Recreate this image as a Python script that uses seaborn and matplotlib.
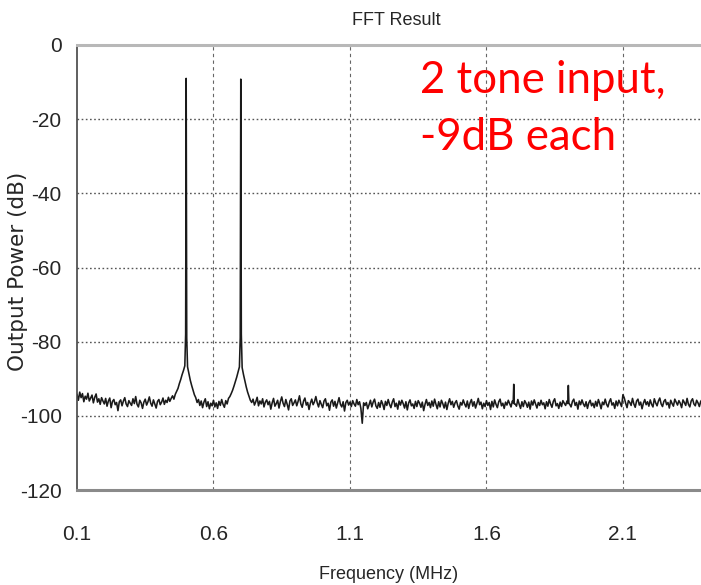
import numpy as np
import pandas as pd
import matplotlib
matplotlib.use("Agg")
import matplotlib.pyplot as plt
import seaborn as sns
from matplotlib.ticker import MultipleLocator

# ---------------- data ----------------
title = "FFT Result"
x_label = "Frequency (MHz)"
y_label = "Output Power (dB)"
note_line1 = "2 tone input,"
note_line2 = "-9dB each"

x_ticks = [0.1, 0.6, 1.1, 1.6, 2.1]
y_ticks = [-120, -100, -80, -60, -40, -20, 0]

# spectrum in 0.005 MHz steps from 0.100 to 2.395 MHz (one row = 0.1 MHz);
# nan = bin replaced by the fine tone / spur detail below
floor_start = 0.10
floor_step = 0.005
floor_db = [
    -94.2, -95.8, -93.6, -95.1, -94.0, -96.2, -94.7, -95.5, -93.9, -96.0, -95.2, -94.4, -96.5, -95.0, -94.1, -96.3, -95.4, -96.9, -95.1, -96.0,
    -96.8, -95.3, -97.4, -96.0, -95.2, -97.8, -96.1, -95.6, -97.0, -96.4, -98.6, -96.2, -95.7, -97.3, -96.0, -95.1, -96.8, -97.5, -95.9, -96.6,
    -97.2, -95.4, -96.7, -94.8, -96.9, -97.6, -95.8, -96.5, -98.0, -96.3, -95.5, -97.1, -96.2, -94.9, -96.6, -97.4, -95.7, -96.8, -97.9, -96.1,
    -95.6, -97.0, -96.3, -95.2, -96.9, -95.8, -96.4, -95.0, -96.1, -95.3, -94.6, -95.5, -94.2, -93.4, -92.6, -91.3, -90.2, -88.9, -87.8, -86.5,
    np.nan, -86.8, -88.6, -90.4, -91.8, -93.0, -94.3, -95.1, -96.4, -95.6, -97.2, -96.0, -97.8, -96.3, -95.4, -97.5, -96.2, -98.1, -96.6, -97.3,
    -95.8, -97.6, -96.5, -98.0, -96.1, -97.2, -95.6, -96.9, -97.7, -95.9, -96.8, -95.3, -94.8, -94.0, -93.1, -92.0, -90.8, -89.6, -88.2, -86.8,
    np.nan, -87.0, -88.9, -90.6, -92.2, -93.6, -94.7, -95.8, -96.4, -95.5, -97.1, -96.2, -95.0, -97.3, -96.0, -96.8, -95.4, -97.6, -96.3, -95.7,
    -97.0, -96.1, -98.2, -96.5, -95.3, -97.4, -96.7, -95.8, -97.9, -96.2, -94.9, -96.6, -97.5, -95.6, -96.9, -98.4, -96.0, -95.4, -97.2, -96.5,
    -95.7, -97.3, -96.1, -94.6, -96.8, -97.7, -96.0, -95.2, -97.1, -96.4, -98.3, -96.6, -95.5, -97.0, -96.2, -94.8, -96.5, -97.6, -95.9, -96.9,
    -97.8, -96.0, -95.4, -97.3, -96.6, -98.5, -96.3, -95.7, -97.4, -96.1, -97.9, -96.5, -95.1, -96.9, -97.6, -96.2, -98.7, -96.4, -95.8, -97.1,
    -96.3, -97.5, -95.9, -96.8, -97.4, -95.6, -97.0, -96.2, -98.0, -102.0, -96.5, -97.2, -96.4, -98.1, -97.0, -95.8, -97.6, -96.3, -95.5, -97.3,
    -98.0, -96.4, -97.7, -95.9, -96.8, -98.3, -96.1, -97.2, -95.6, -96.9, -97.8, -96.3, -95.4, -97.5, -96.6, -98.2, -96.0, -97.1, -95.8, -96.7,
    -97.9, -96.2, -98.4, -96.5, -95.7, -97.3, -96.8, -98.0, -96.1, -97.5, -95.9, -96.6, -97.7, -96.3, -98.6, -96.9, -95.6, -97.2, -96.4, -97.8,
    -96.0, -97.4, -95.5, -96.9, -98.1, -96.2, -97.6, -95.8, -96.7, -97.9, -96.3, -98.3, -96.6, -95.4, -97.0, -96.1, -97.7, -96.5, -95.9, -97.3,
    -98.2, -96.4, -97.1, -95.7, -96.8, -97.6, -96.0, -98.0, -96.5, -95.6, -97.4, -96.2, -97.9, -96.7, -95.3, -97.0, -96.3, -98.1, -96.6, -97.5,
    -95.9, -97.2, -96.4, -98.3, -96.1, -97.6, -95.7, -96.9, -97.8, -96.2, -95.5, -97.3, -96.6, -98.0, -96.3, -97.1, -95.8, -96.7, -97.6, -96.0,
    np.nan, -96.8, -97.4, -95.6, -96.9, -98.0, -96.2, -97.5, -95.9, -96.6, -97.7, -96.3, -98.2, -96.0, -97.1, -95.7, -96.8, -97.9, -96.4, -97.2,
    -95.8, -97.0, -96.5, -98.1, -96.2, -97.4, -95.6, -96.8, -97.7, -96.1, -95.4, -97.3, -96.7, -98.0, -96.3, -97.5, -95.9, -96.6, -97.2, -96.0,
    np.nan, -96.9, -97.6, -96.1, -95.5, -97.2, -96.4, -98.2, -96.0, -97.0, -95.7, -96.8, -97.5, -96.2, -98.0, -96.5, -95.8, -97.3, -96.6, -97.8,
    -96.1, -97.4, -95.6, -96.7, -98.1, -96.3, -97.0, -95.5, -96.9, -97.6, -96.2, -95.4, -97.1, -96.5, -98.0, -96.0, -97.3, -95.8, -96.6, -97.5,
    -94.3, -95.2, -96.6, -97.8, -95.9, -96.4, -97.2, -95.3, -96.8, -97.7, -96.0, -95.5, -97.1, -96.3, -98.1, -96.6, -95.6, -97.0, -96.2, -97.4,
    -95.7, -96.9, -97.6, -95.4, -96.5, -97.3, -96.0, -95.2, -96.8, -97.5, -96.1, -95.6, -97.0, -96.4, -97.9, -95.8, -96.7, -97.4, -95.5, -96.3,
    -97.1, -95.9, -96.6, -97.8, -95.7, -96.4, -97.2, -95.3, -96.9, -97.6, -96.0, -95.4, -96.8, -97.3, -95.8, -96.5, -97.5, -96.1, -95.6, -96.9,
]

# fine detail around the two tones and the two small spurs
tone1_f = [0.498, 0.4995, 0.500, 0.5005, 0.502]
tone1_db = [-78.0, -30.0, -9.0, -28.0, -79.0]
tone2_f = [0.698, 0.6995, 0.700, 0.7005, 0.702]
tone2_db = [-79.0, -32.0, -9.2, -30.0, -78.0]
spur_f = [1.698, 1.700, 1.702, 1.898, 1.900, 1.902]
spur_db = [-96.5, -91.5, -96.8, -96.7, -91.8, -96.6]

# ---------------- build table ----------------
floor_f = np.round(floor_start + floor_step * np.arange(len(floor_db)), 4)
df = pd.concat([
    pd.DataFrame({"freq": floor_f, "db": floor_db}),
    pd.DataFrame({"freq": tone1_f, "db": tone1_db}),
    pd.DataFrame({"freq": tone2_f, "db": tone2_db}),
    pd.DataFrame({"freq": spur_f, "db": spur_db}),
]).dropna().sort_values("freq").reset_index(drop=True)

# ---------------- plot ----------------
sns.set_style("white")
plt.rcParams["font.family"] = ["Liberation Sans", "DejaVu Sans"]

fig = plt.figure(figsize=(7.01, 5.85), dpi=100)
ax = fig.add_axes([77 / 701, 95 / 585, 1 - 77 / 701, 445 / 585])

sns.lineplot(data=df, x="freq", y="db", estimator=None, sort=True,
             color="#1a1a1a", linewidth=1.15, ax=ax)

ax.set_xlim(0.1, 2.386)
ax.set_ylim(-120, 0)
ax.set_xticks(x_ticks)
ax.set_xticklabels([f"{v:g}" for v in x_ticks])
ax.set_yticks(y_ticks)
ax.set_yticklabels([f"{v:d}" for v in y_ticks])
ax.xaxis.set_minor_locator(MultipleLocator(0.1))

ax.tick_params(axis="x", which="both", direction="in", length=5, width=1,
               color="#555555", labelsize=15, pad=25)
ax.tick_params(axis="y", which="both", length=0, labelsize=15, pad=11)

for v in y_ticks[1:-1]:
    ax.axhline(v, color="#555555", linestyle=(0, (1.2, 1.8)), linewidth=1.0, zorder=0)
for v in x_ticks[1:]:
    ax.axvline(v, color="#666666", linestyle=(0, (3, 3)), linewidth=0.8, zorder=0)

ax.spines["right"].set_visible(False)
ax.spines["top"].set_color("#b8b8b8")
ax.spines["top"].set_linewidth(2.2)
ax.spines["bottom"].set_color("#8a8a8a")
ax.spines["bottom"].set_linewidth(2.2)
ax.spines["left"].set_color("#444444")
ax.spines["left"].set_linewidth(1.2)

ax.set_xlabel(x_label, fontsize=13, labelpad=16)
ax.set_ylabel(y_label, fontsize=15.5, family=["DejaVu Sans"])
ax.yaxis.set_label_coords((28 - 77) / 624, (490 - 271) / 445)
fig.text(0.565, 0.965, title, ha="center", va="center", fontsize=13)

fig.text(420 / 701, 1 - 93 / 585, note_line1, color="#ff0000", fontsize=31.5,
         family=["Lato", "DejaVu Sans"], va="baseline", ha="left")
fig.text(420 / 701, 1 - 150 / 585, note_line2, color="#ff0000", fontsize=31.5,
         family=["Lato", "DejaVu Sans"], va="baseline", ha="left")

fig.savefig("out.png", dpi=100)
